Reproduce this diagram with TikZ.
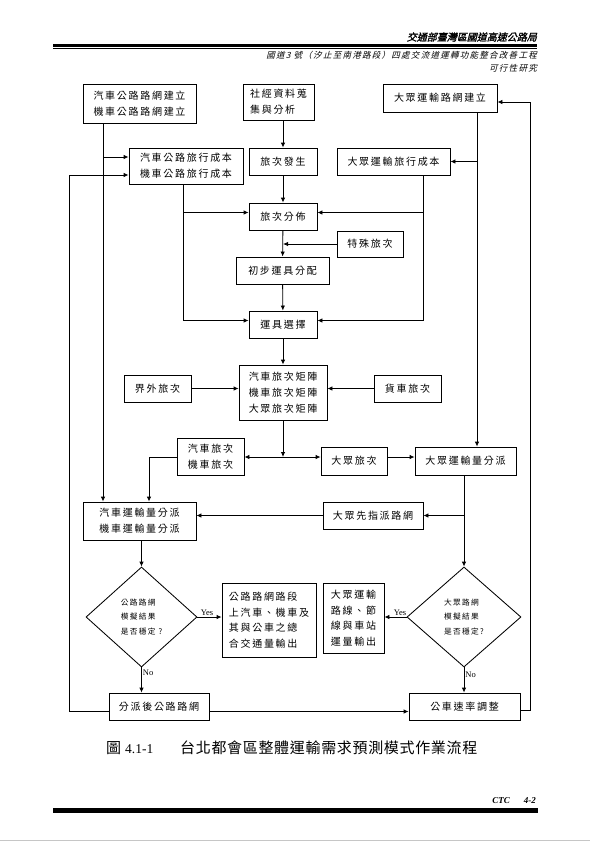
\documentclass[tikz,border=0pt]{standalone}
\usepackage{fontspec}
\setmainfont{Noto Sans CJK TC}
\newfontfamily\boxfont{Noto Sans CJK TC}[LetterSpace=17]
\newfontfamily\capfont{Noto Sans CJK TC}[LetterSpace=4.5]
\newfontfamily\hdrfont{Noto Sans CJK TC}[FakeSlant=0.25,FakeBold=1.5]
\newfontfamily\subfont{Noto Sans CJK TC}[FakeSlant=0.25,LetterSpace=15]
\newfontfamily\latfont{Liberation Serif}
\usetikzlibrary{calc}
\usetikzlibrary{positioning}
\usetikzlibrary{arrows.meta}
\usetikzlibrary{shapes.geometric}

\tikzset{
  box/.style={draw, line width=0.85pt, inner sep=0pt, align=center,
    font=\boxfont\fontsize{10}{16}\selectfont},
  sz/.style 2 args={minimum width=#1pt, minimum height=#2pt},
  decide/.style={diamond, draw, line width=0.85pt, inner sep=0pt, align=left,
    font=\boxfont\fontsize{7.7}{14.5}\selectfont},
  arr/.style={line width=0.85pt, -{Latex[length=5pt,width=4.5pt]}},
  lbl/.style={inner sep=1pt, font=\latfont\fontsize{8.5}{9}\selectfont},
}

\begin{document}
\begin{tikzpicture}[x=1pt,y=-1pt]
		\useasboundingbox (0,0) rectangle (590,841);
		% header
		\node[anchor=east, inner sep=0pt, font=\hdrfont\fontsize{10}{10}\selectfont] (agency) at (537,37) {交通部臺灣區國道高速公路局};
		\draw[line width=2.7pt] (53,45.3) -- (537,45.3);
		\draw[line width=0.7pt] (53,48.3) -- (537,48.3);
		\node[anchor=east, inner sep=0pt, font=\subfont\fontsize{8.5}{8.5}\selectfont] (project) at (537,55.3) {國道3 號（汐止至南港路段）四處交流道運轉功能整合改善工程};
		\node[anchor=east, inner sep=0pt, font=\subfont\fontsize{8.5}{8.5}\selectfont] (study) at (537,68) {可行性研究};

		% boxes
		\node[box, sz={113}{39}] (netHwy) at (139.5,103.5) {汽車公路路網建立\\機車公路路網建立};
		\node[box, sz={71}{36}, align=left] (socio) at (278.5,102) {社經資料蒐\\集與分析};
		\node[box, sz={114}{28}] (netTr) at (440,98) {大眾運輸路網建立};
		\node[box, sz={114}{36}] (costHwy) at (186,166) {汽車公路旅行成本\\機車公路旅行成本};
		\node[box, sz={68}{27}] (gen) at (283,161.5) {旅次發生};
		\node[box, sz={113}{27}] (costTr) at (393.5,161.5) {大眾運輸旅行成本};
		\node[box, sz={68}{27}] (dist) at (283,216.5) {旅次分佈};
		\node[box, sz={66}{26}] (special) at (370,244) {特殊旅次};
		\node[box, sz={93}{27}] (prelim) at (282.5,270.5) {初步運具分配};
		\node[box, sz={68}{27}] (choice) at (283,324.5) {運具選擇};
		\node[box, sz={88}{55}] (matrix) at (283,392.5) {汽車旅次矩陣\\機車旅次矩陣\\大眾旅次矩陣};
		\node[box, sz={67}{27}] (ext) at (157.5,388.5) {界外旅次};
		\node[box, sz={67}{27}] (truck) at (407.5,388.5) {貨車旅次};
		\node[box, sz={67}{37}] (carTrip) at (210.5,456.5) {汽車旅次\\機車旅次};
		\node[box, sz={66}{28}] (trTrip) at (354,461) {大眾旅次};
		\node[box, sz={101}{28}] (trAssign) at (465.5,461) {大眾運輸量分派};
		\node[box, sz={113}{38}] (hwyAssign) at (139.5,521) {汽車運輸量分派\\機車運輸量分派};
		\node[box, sz={100}{27}] (preload) at (373,515.5) {大眾先指派路網};
		\node[decide, minimum width=111pt, minimum height=100pt] (dHwy) at (141.5,617) {公路路網\\模擬結果\\是否穩定 ?};
		\node[box, sz={94}{74}, align=left, font=\boxfont\fontsize{10}{15.5}\selectfont] (outHwy) at (269,620) {公路路網路段\\上汽車、機車及\\其與公車之總\\合交通量輸出};
		\node[box, sz={61}{70}, align=left, font=\boxfont\fontsize{10}{15.5}\selectfont] (outTr) at (353.5,618) {大眾運輸\\路線、節\\線與車站\\運量輸出};
		\node[decide, minimum width=114pt, minimum height=100pt] (dTr) at (464,617) {大眾路網\\模擬結果\\是否穩定?};
		\node[box, sz={100}{27}] (netAfter) at (159,706.5) {分派後公路路網};
		\node[box, sz={111}{27}] (speed) at (464.5,706.5) {公車速率調整};

		% helper points
		\coordinate (hwyLine) at (103,0);
		\coordinate (hwyCost) at (183,0);
		\coordinate (trCost) at (423,0);
		\coordinate (trLine) at (477,0);
		\coordinate (leftLoop) at (69,0);
		\coordinate (rightLoop) at (530,0);
		\coordinate (split) at (283,457);
		\coordinate (costHwyA) at ($(costHwy.west)+(0,-9)$);
		\coordinate (costHwyB) at ($(costHwy.west)+(0,9)$);
		\coordinate (distL) at ($(dist.west)+(0,-4)$);
		\coordinate (distR) at ($(dist.east)+(0,-4)$);
		\coordinate (choiceL) at ($(choice.west)+(0,-4)$);
		\coordinate (choiceR) at ($(choice.east)+(0,-4)$);
		\coordinate (hwyAssignIn) at ($(hwyAssign.north)+(9.5,0)$);
		\coordinate (netAfterL) at ($(netAfter.west)+(0,5)$);
		\coordinate (netAfterR) at ($(netAfter.east)+(0,5)$);
		\coordinate (speedR) at ($(speed.east)+(0,4)$);
		\coordinate (netTrIn) at ($(netTr.east)+(0,4)$);

		% connectors
		\draw[arr] (netHwy.south -| hwyLine) -- (hwyAssign.north -| hwyLine);
		\draw[arr] (hwyLine |- costHwyA) -- (costHwyA);
		\draw[arr] (netAfterL) -| (leftLoop |- costHwyB) -- (costHwyB);
		\draw[arr] (speedR) -| (rightLoop |- netTrIn) -- (netTrIn);
		\draw[arr] (netTr.south -| trLine) -- (trAssign.north -| trLine);
		\draw[arr] (trLine |- costTr.east) -- (costTr.east);
		\draw[arr] (socio.south -| gen.north) -- (gen.north);
		\draw[arr] (gen) -- (dist);
		\draw[arr] (costHwy.south -| hwyCost) |- (choiceL);
		\draw[arr] (hwyCost |- distL) -- (distL);
		\draw[arr] (costTr.south -| trCost) |- (choiceR);
		\draw[arr] (trCost |- distR) -- (distR);
		\draw[arr] (dist) -- (prelim);
		\draw[arr] (special.west) -- (special.west -| dist.south);
		\draw[arr] (prelim) -- (choice);
		\draw[arr] (choice) -- (matrix);
		\draw[arr] (ext.east) -- (ext.east -| matrix.west);
		\draw[arr] (truck.west) -- (truck.west -| matrix.east);
		\draw[arr] (matrix.south) -- (split);
		\draw[arr] (split) -- (split -| carTrip.east);
		\draw[arr] (split) -- (split -| trTrip.west);
		\draw[arr] (split -| trTrip.east) -- (split -| trAssign.west);
		\draw[arr] (split -| carTrip.west) -| (hwyAssignIn);
		\draw[arr] (trAssign.south -| dTr.north) -- (dTr.north);
		\draw[arr] (dTr.north |- preload.east) -- (preload.east);
		\draw[arr] (preload.west) -- (preload.west -| hwyAssign.east);
		\draw[arr] (hwyAssign.south -| dHwy.north) -- (dHwy.north);
		\draw[arr] (dHwy.east) -- node[lbl, above, pos=0.4] {Yes} (dHwy.east -| outHwy.west);
		\draw[arr] (dTr.west) -- node[lbl, above, pos=0.3] {Yes} (dTr.west -| outTr.east);
		\draw[arr] (dHwy.south) -- node[lbl, right, pos=0.2] {No} (dHwy.south |- netAfter.north);
		\draw[arr] (dTr.south) -- node[lbl, right, pos=0.3] {No} (dTr.south |- speed.north);
		\draw[arr] (netAfterR) -- (netAfterR -| speed.west);

		% caption
		\node[anchor=west, inner sep=0pt, font=\capfont\fontsize{15}{15}\selectfont] (capNo) at (106,748) {圖 {\latfont\fontsize{13.5}{14}\selectfont 4.1-1}};
		\node[anchor=west, inner sep=0pt, font=\capfont\fontsize{15}{15}\selectfont] (capText) at (180,748) {台北都會區整體運輸需求預測模式作業流程};

		% footer
		\node[anchor=east, inner sep=0pt, font=\latfont\bfseries\itshape\fontsize{9}{9}\selectfont] (page) at (536,801) {CTC\hspace{14pt}4-2};
		\draw[line width=0.7pt] (53,808.3) -- (538,808.3);
		\draw[line width=3.3pt] (53,811) -- (538,811);
		\draw[gray!45, line width=1pt] (0,840) -- (590,840);
	\end{tikzpicture}
\end{document}
